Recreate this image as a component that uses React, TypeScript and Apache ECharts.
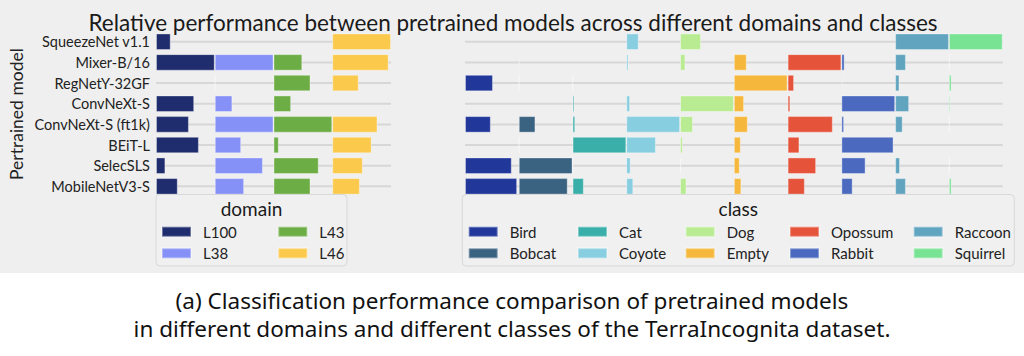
import React, { useEffect, useRef } from "react";
import * as echarts from "echarts";

const models = [
  "SqueezeNet v1.1",
  "Mixer-B/16",
  "RegNetY-32GF",
  "ConvNeXt-S",
  "ConvNeXt-S (ft1k)",
  "BEiT-L",
  "SelecSLS",
  "MobileNetV3-S",
];

const domains = ["L100", "L38", "L43", "L46"];
const domainColors = ["#1f2c6d", "#8691f7", "#6cad45", "#fbc94b"];

// relative performance (0..1) of each model, per domain (models order)
const L100 = [0.25, 1.0, 0, 0.65, 0.56, 0.73, 0.16, 0.37];
const L38 = [0, 1.0, 0.01, 0.3, 1.0, 0.45, 0.82, 0.5];
const L43 = [0, 0.49, 0.63, 0.3, 1.0, 0.09, 0.77, 0.63];
const L46 = [1.0, 0.96, 0.45, 0, 0.77, 0.67, 0.52, 0.47];
const domainValues = [L100, L38, L43, L46];

const classes = ["Bird", "Bobcat", "Cat", "Coyote", "Dog", "Empty", "Opossum", "Rabbit", "Raccoon", "Squirrel"];
const classColors = ["#21379a", "#3a6281", "#3aafa9", "#86cee0", "#b9eb93", "#f6b83c", "#e5533a", "#4b6abf", "#60a4bf", "#79e394"];

// relative performance (0..1) of each model, per class (models order)
const Bird = [0, 0, 0.52, 0, 0.48, 0, 0.87, 0.97];
const Bobcat = [0, 0.02, 0.01, 0, 0.31, 0.01, 1.0, 0.91];
const Cat = [0, 0, 0.01, 0.035, 0.05, 1.0, 0.01, 0.21];
const Coyote = [0.23, 0.04, 0, 0.07, 1.0, 0.55, 0.08, 0.13];
const Dog = [0.39, 0.1, 0, 1.0, 0.24, 0.05, 0.02, 0.12];
const Empty = [0, 0.24, 1.0, 0.19, 0.26, 0.13, 0.11, 0.14];
const Opossum = [0, 1.0, 0.12, 0.05, 0.84, 0.22, 0.53, 0.32];
const Rabbit = [0, 0.06, 0.02, 1.0, 0.05, 0.97, 0.45, 0.21];
const Raccoon = [1.0, 0.2, 0.08, 0.26, 0.14, 0, 0.09, 0.2];
const Squirrel = [1.0, 0.01, 0.05, 0.03, 0.01, 0, 0.01, 0.05];
const classValues = [Bird, Bobcat, Cat, Coyote, Dog, Empty, Opossum, Rabbit, Raccoon, Squirrel];

const titleText = "Relative performance between pretrained models across different domains and classes";
const yAxisName = "Pertrained model";
const captionLines = [
  "(a) Classification performance comparison of pretrained models",
  "in different domains and different classes of the TerraIncognita dataset.",
];

const FONT = "Lato";

function buildStack(names: string[], colors: string[], values: number[][], axisIdx: number, stackId: string) {
  const out: any[] = [];
  names.forEach((name, i) => {
    out.push({
      name,
      type: "bar",
      stack: stackId,
      xAxisIndex: axisIdx,
      yAxisIndex: axisIdx,
      barWidth: "80%",
      z: 3,
      itemStyle: { color: colors[i], borderColor: "rgba(255,255,255,0.35)", borderWidth: 1 },
      data: values[i].map((v) => (v === 0 ? "-" : v)),
    });
    if (i < names.length - 1) {
      out.push({
        name: "_pad_" + stackId + i,
        type: "bar",
        stack: stackId,
        xAxisIndex: axisIdx,
        yAxisIndex: axisIdx,
        barWidth: "80%",
        silent: true,
        z: 3,
        itemStyle: { color: "rgba(0,0,0,0)" },
        data: values[i].map((v) => 1 - v),
      });
    }
  });
  return out;
}

function gridLines(axisIdx: number, maxX: number) {
  return {
    type: "custom",
    xAxisIndex: axisIdx,
    yAxisIndex: axisIdx,
    silent: true,
    z: 1,
    encode: { x: [0, 1], y: 2 },
    data: models.map((m) => [0, maxX, m]),
    renderItem: (params: any, api: any) => {
      const a = api.coord([api.value(0), api.value(2)]);
      const b = api.coord([api.value(1), api.value(2)]);
      return {
        type: "line",
        shape: { x1: a[0], y1: a[1], x2: b[0], y2: b[1] },
        style: { stroke: "#d7d7d7", lineWidth: 2 },
      };
    },
  };
}

function legendCol(names: string[], left: number) {
  return {
    data: names,
    orient: "vertical",
    left,
    top: 224.2,
    padding: 0,
    itemGap: 6.6,
    itemWidth: 29,
    itemHeight: 10,
    icon: "rect",
    selectedMode: false,
    z: 20,
    textStyle: { fontFamily: FONT, fontSize: 15, color: "#222", padding: [0, 0, 0, 7] },
  };
}

export default function App() {
  const ref = useRef<HTMLDivElement>(null);
  useEffect(() => {
    if (!ref.current) return;
    const chart = echarts.init(ref.current, undefined, { renderer: "svg" });
    const gridTop = 31.4;
    const gridH = 165.3;
    const option: any = {
      animation: false,
      backgroundColor: "#ffffff",
      title: {
        text: titleText,
        left: 508,
        textAlign: "center",
        top: 6,
        textStyle: { fontFamily: FONT, fontSize: 22.5, fontWeight: "normal", color: "#1a1a1a" },
      },
      grid: [
        { left: 156, top: gridTop, width: 235, height: gridH },
        { left: 465, top: gridTop, width: 537.7, height: gridH },
      ],
      xAxis: [
        { type: "value", gridIndex: 0, min: 0, max: domains.length, show: false },
        { type: "value", gridIndex: 1, min: 0, max: classes.length, show: false },
      ],
      yAxis: [
        {
          type: "category",
          gridIndex: 0,
          data: models,
          inverse: true,
          axisLine: { show: false },
          axisTick: { show: false },
          splitLine: { show: false },
          axisLabel: { fontFamily: FONT, fontSize: 14.5, color: "#222", margin: 6 },
          name: yAxisName,
          nameLocation: "middle",
          nameRotate: 90,
          nameGap: 131,
          nameTextStyle: { fontFamily: FONT, fontSize: 17.5, color: "#222" },
        },
        {
          type: "category",
          gridIndex: 1,
          data: models,
          inverse: true,
          axisLine: { show: false },
          axisTick: { show: false },
          splitLine: { show: false },
          axisLabel: { show: false },
        },
      ],
      legend: [
        legendCol([domains[0], domains[1]], 161),
        legendCol([domains[2], domains[3]], 277.3),
        legendCol([classes[0], classes[1]], 467.7),
        legendCol([classes[2], classes[3]], 577),
        legendCol([classes[4], classes[5]], 684.7),
        legendCol([classes[6], classes[7]], 789),
        legendCol([classes[8], classes[9]], 912.7),
      ],
      graphic: [
        {
          type: "rect",
          z: -100,
          silent: true,
          shape: { x: 0, y: 0, width: 1024, height: 273 },
          style: { fill: "#efefef" },
        },
        {
          type: "rect",
          z: 10,
          silent: true,
          shape: { x: 156, y: 194.5, width: 191, height: 71.5, r: 4 },
          style: { fill: "#f0f0f0", stroke: "#d8d8d8", lineWidth: 1 },
        },
        {
          type: "rect",
          z: 10,
          silent: true,
          shape: { x: 462.3, y: 194.5, width: 552, height: 71.5, r: 4 },
          style: { fill: "#f0f0f0", stroke: "#d8d8d8", lineWidth: 1 },
        },
        {
          type: "text",
          z: 11,
          x: 251.5,
          y: 208.5,
          style: { text: "domain", fontFamily: FONT, fontSize: 19, fill: "#1a1a1a", align: "center", verticalAlign: "middle" },
        },
        {
          type: "text",
          z: 11,
          x: 738.3,
          y: 208.5,
          style: { text: "class", fontFamily: FONT, fontSize: 19, fill: "#1a1a1a", align: "center", verticalAlign: "middle" },
        },
        {
          type: "text",
          z: 11,
          x: 512,
          y: 300,
          style: { text: captionLines[0], fontFamily: "Noto Sans", fontSize: 22.5, fill: "#111", align: "center", verticalAlign: "middle" },
        },
        {
          type: "text",
          z: 11,
          x: 512,
          y: 328,
          style: { text: captionLines[1], fontFamily: "Noto Sans", fontSize: 22.5, fill: "#111", align: "center", verticalAlign: "middle" },
        },
      ],
      series: [
        gridLines(0, domains.length),
        gridLines(1, classes.length),
        ...buildStack(domains, domainColors, domainValues, 0, "dom"),
        ...buildStack(classes, classColors, classValues, 1, "cls"),
      ],
    };
    chart.setOption(option);
    return () => chart.dispose();
  }, []);
  return <div ref={ref} style={{ position: "fixed", left: 0, top: 0, width: 1024, height: 356 }} />;
}
